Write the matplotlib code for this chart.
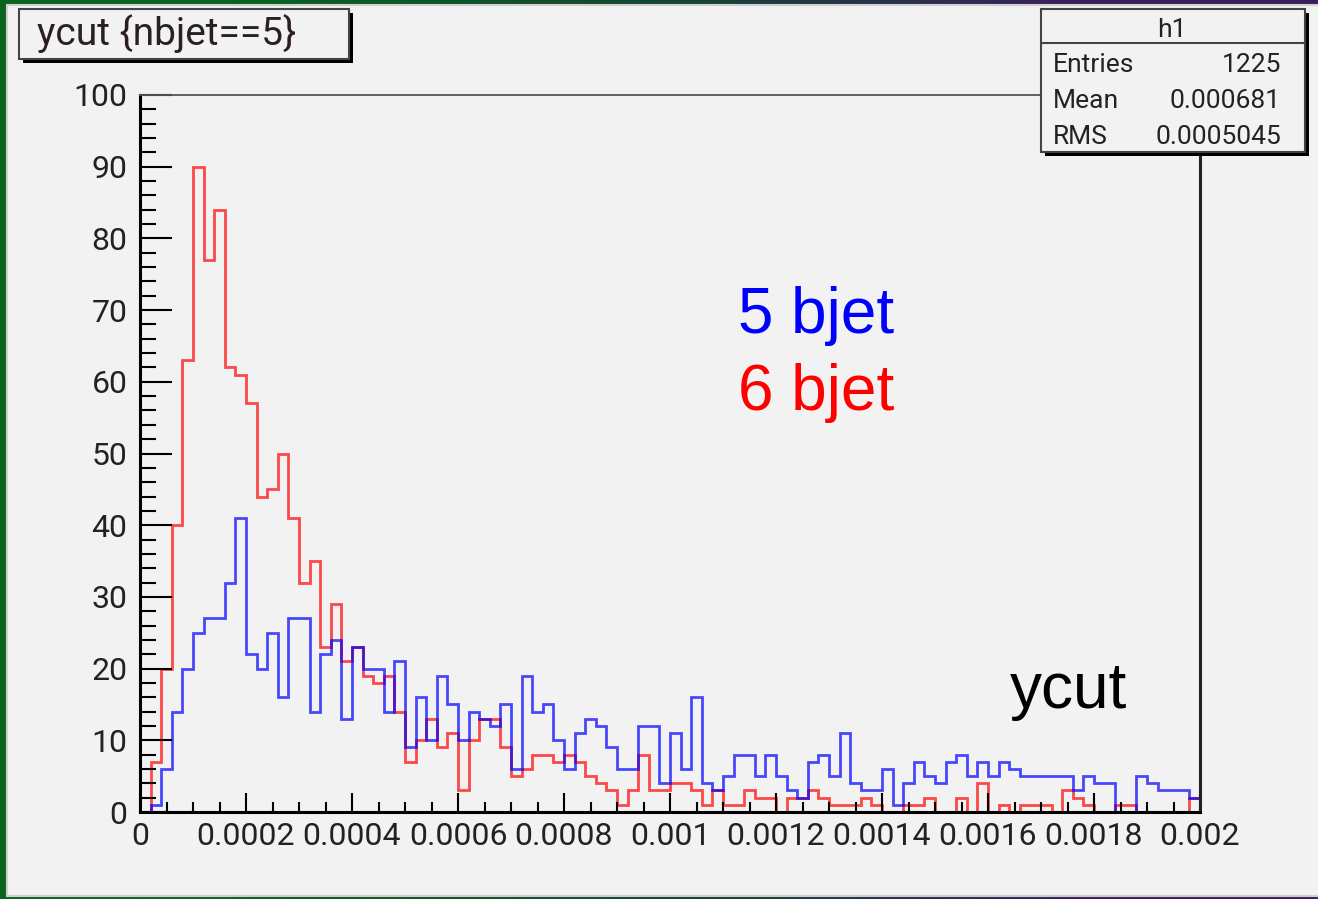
import numpy as np
import matplotlib
matplotlib.use("Agg")
from matplotlib import pyplot as plt
from matplotlib.patches import Rectangle
from matplotlib.ticker import MultipleLocator, FuncFormatter

W, H = 1318, 899

# histogram binning
n_bins = 100
x_min, x_max = 0.0, 0.002

# bin contents
bjet5 = [0, 1, 6, 14, 20, 25, 27, 27, 32, 41, 22, 20, 25, 16, 27, 27, 14, 22, 24, 13,
         23, 20, 20, 14, 21, 9, 16, 10, 19, 15, 10, 14, 13, 12, 15, 6, 19, 14, 15, 10,
         6, 11, 13, 12, 9, 6, 6, 12, 12, 4, 11, 6, 16, 4, 3, 5, 8, 8, 5, 8,
         5, 3, 2, 7, 8, 5, 11, 4, 3, 3, 6, 1, 4, 7, 5, 4, 7, 8, 5, 7,
         5, 7, 6, 5, 5, 5, 5, 5, 3, 5, 4, 4, 0, 0, 5, 4, 3, 3, 3, 2]
bjet6 = [0, 7, 20, 40, 63, 90, 77, 84, 62, 61, 57, 44, 45, 50, 41, 32, 35, 23, 29, 21,
         23, 19, 18, 19, 14, 7, 10, 13, 9, 11, 3, 10, 13, 13, 9, 5, 6, 8, 8, 7,
         8, 7, 5, 4, 3, 1, 3, 8, 3, 3, 4, 4, 3, 1, 3, 1, 1, 3, 2, 2,
         0, 2, 2, 3, 2, 1, 1, 1, 2, 1, 0, 0, 1, 1, 2, 0, 0, 2, 0, 4,
         0, 1, 0, 1, 1, 1, 0, 3, 2, 1, 0, 0, 1, 1, 0, 0, 0, 0, 0, 2]

stat_names = ["Entries", "Mean", "RMS"]
stat_values = ["1225", "0.000681", "0.0005045"]

edges = np.linspace(x_min, x_max, n_bins + 1)

fig = plt.figure(figsize=(W / 100, H / 100), dpi=100)


def fig_rect(x0, y0, x1, y1, **kw):
    # rectangle given in pixel coords, origin top-left
    return Rectangle((x0 / W, 1 - y1 / H), (x1 - x0) / W, (y1 - y0) / H,
                     transform=fig.transFigure, **kw)


def fx(x):
    return x / W


def fy(y):
    return 1 - y / H


# slide background behind the canvas
bg = fig.add_axes([0, 0, 1, 1], zorder=-3)
grad = np.array([[[10, 100, 30], [20, 70, 50], [60, 30, 95]]]) / 255.0
bg.imshow(grad, aspect="auto", extent=(0, 1, 0, 1), interpolation="bilinear")
bg.axis("off")

fig.add_artist(fig_rect(7, 5, W + 2, 896, facecolor="#f2f2f2", edgecolor="#cfcfcf",
                        lw=1.5, zorder=-2))

ax = fig.add_axes([fx(140), fy(812), 1060 / W, 717 / H])
ax.set_facecolor("none")

ax.stairs(bjet6, edges, color="red", lw=2, alpha=0.7, baseline=0)
ax.stairs(bjet5, edges, color="blue", lw=2, alpha=0.7, baseline=0)

ax.set_xlim(x_min, x_max)
ax.set_ylim(0, 100)

ax.xaxis.set_major_locator(MultipleLocator(0.0002))
ax.xaxis.set_minor_locator(MultipleLocator(0.00005))
ax.yaxis.set_major_locator(MultipleLocator(10))
ax.yaxis.set_minor_locator(MultipleLocator(2))
ax.xaxis.set_major_formatter(FuncFormatter(lambda v, p: "%g" % round(v, 7)))

ax.tick_params(axis="x", which="major", direction="in", length=14, width=1.5,
               labelsize=23, pad=7, top=False)
ax.tick_params(axis="x", which="minor", direction="in", length=7, width=1.5, top=False)
ax.tick_params(axis="y", which="major", direction="in", length=23, width=1.5,
               labelsize=23, pad=9, right=False)
ax.tick_params(axis="y", which="minor", direction="in", length=11.5, width=1.5, right=False)
for lab in ax.get_xticklabels() + ax.get_yticklabels():
    lab.set_family("Roboto")
    lab.set_color("#222222")

ax.spines["left"].set_linewidth(2.2)
ax.spines["bottom"].set_linewidth(2.2)
ax.spines["right"].set_linewidth(2.2)
ax.spines["right"].set_color("#222222")
ax.spines["top"].set_linewidth(1.3)
ax.spines["top"].set_color("#555555")

# legend-like labels and axis title
fig.text(fx(738), fy(333), "5 bjet", color="blue", fontsize=46,
         family="Liberation Sans", va="baseline")
fig.text(fx(738), fy(410), "6 bjet", color="red", fontsize=46,
         family="Liberation Sans", va="baseline")
fig.text(fx(1010), fy(708), "ycut", color="black", fontsize=46,
         family="Liberation Sans", va="baseline")

# title box
fig.add_artist(fig_rect(23, 13, 353, 63, facecolor="black", edgecolor="none", zorder=5))
fig.add_artist(fig_rect(19, 9, 349, 59, facecolor="#f2f2f2", edgecolor="#444444",
                        lw=1.5, zorder=6))
fig.text(fx(37), fy(34), "ycut {nbjet==5}", fontsize=28, family="Roboto",
         color="#2a2020", va="center", zorder=7)

# stats box
fig.add_artist(fig_rect(1045, 13, 1309, 156, facecolor="black", edgecolor="none", zorder=5))
fig.add_artist(fig_rect(1041, 9, 1305, 152, facecolor="#f2f2f2", edgecolor="#444444",
                        lw=1.5, zorder=6))
fig.add_artist(plt.Line2D([fx(1041), fx(1305)], [fy(43), fy(43)], color="#444444",
                          lw=1.5, transform=fig.transFigure, zorder=7))
fig.text(fx(1172), fy(30), "h1", fontsize=19, family="Roboto", color="#222222",
         ha="center", va="center", zorder=7)
for i, (name, val) in enumerate(zip(stat_names, stat_values)):
    yy = fy(65 + 36 * i)
    fig.text(fx(1053), yy, name, fontsize=19, family="Roboto", color="#222222",
             va="center", zorder=7)
    fig.text(fx(1281), yy, val, fontsize=19, family="Roboto", color="#222222",
             ha="right", va="center", zorder=7)

fig.savefig("out.png", dpi=100)
